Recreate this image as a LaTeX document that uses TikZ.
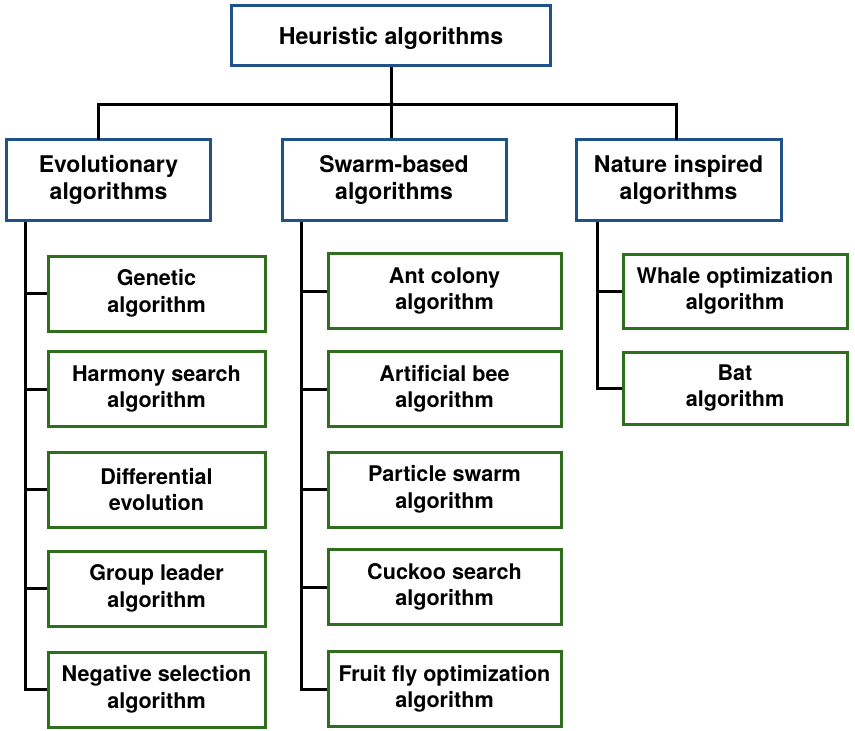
\documentclass[tikz,border=0pt]{standalone}
\usepackage{fontspec}
\setmainfont{TeX Gyre Heros}
\begin{document}
\begin{tikzpicture}[x=1pt,y=-1pt,
  box/.style={draw, line width=3pt, fill=white, align=center, inner sep=0pt, font=\bfseries},
  topbox/.style={box, draw=bluec, text depth=0pt, font=\fontsize{23.2}{27}\selectfont\bfseries},
  midbox/.style={box, draw=bluec, font=\fontsize{23}{27.5}\selectfont\bfseries},
  leafbox/.style={box, draw=greenc, font=\fontsize{21.6}{26.5}\selectfont\bfseries},
  conn/.style={draw=black, line width=3pt}]
\definecolor{bluec}{HTML}{1F5288}
\definecolor{greenc}{HTML}{2F6E1C}
\useasboundingbox[fill=white] (0,0) rectangle (855,731);
% nodes
\node[topbox, minimum width=319pt, minimum height=60pt] (top) at (391,35.5) {Heuristic algorithms};
\node[midbox, minimum width=204pt, minimum height=81pt] (evo) at (108.5,180) {Evolutionary\\algorithms};
\node[midbox, minimum width=224pt, minimum height=81pt] (swa) at (394,180) {Swarm-based\\algorithms};
\node[midbox, minimum width=205pt, minimum height=81pt] (nat) at (678.5,180) {Nature inspired\\algorithms};
\foreach \n/\y/\t in {e1/293.5/{Genetic\\algorithm}, e2/389/{Harmony search\\algorithm}, e3/489.5/{Differential\\evolution}, e4/588.5/{Group leader\\algorithm}, e5/689.5/{Negative selection\\algorithm}}
  \node[leafbox, minimum width=217pt, minimum height=75pt] (\n) at (156.5,\y) {\t};
\foreach \n/\y/\t in {s1/291/{Ant colony\\algorithm}, s2/389/{Artificial bee\\algorithm}, s3/489.5/{Particle swarm\\algorithm}, s4/587/{Cuckoo search\\algorithm}, s5/689/{Fruit fly optimization\\algorithm}}
  \node[leafbox, minimum width=233pt, minimum height=75pt] (\n) at (444.5,\y) {\t};
\node[leafbox, minimum width=224pt, minimum height=74pt] (n1) at (735,291) {Whale optimization\\algorithm};
\node[leafbox, minimum width=224pt, minimum height=72pt] (n2) at (735,388) {Bat\\algorithm};
% connectors
\coordinate (bar) at (0,104);
\draw[conn] (top.south) -- (top.south |- swa.north);
\draw[conn, line cap=rect] (evo.north -| 98,0) |- (bar -| 676,0) -- (nat.north -| 676,0);
\coordinate (tE) at (evo.south -| 25,0);
\coordinate (tS) at (swa.south -| 301,0);
\coordinate (tN) at (nat.south -| 597,0);
\draw[conn] (tE) |- (e5.west);
\foreach \n in {e1,e2,e3,e4} \draw[conn] (tE |- \n.west) -- (\n.west);
\draw[conn] (tS) |- (s5.west);
\foreach \n in {s1,s2,s3,s4} \draw[conn] (tS |- \n.west) -- (\n.west);
\draw[conn] (tN) |- (n2.west);
\draw[conn] (tN |- n1.west) -- (n1.west);
\end{tikzpicture}
\end{document}
